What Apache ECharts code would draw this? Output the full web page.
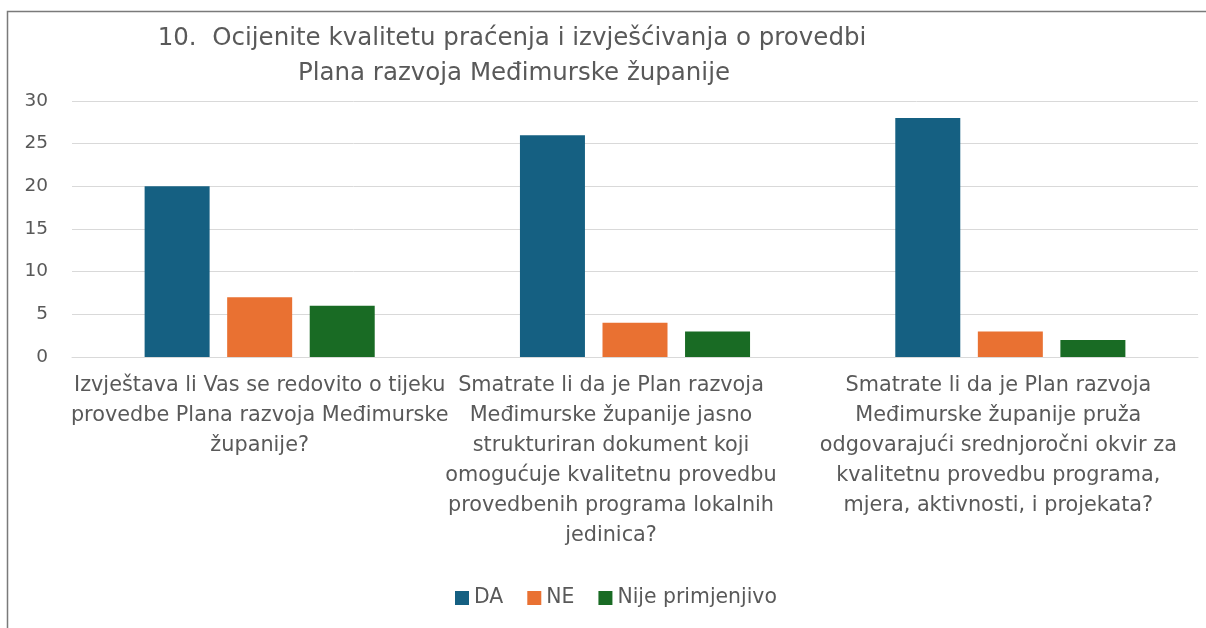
<!DOCTYPE html>
<html>
<head>
<meta charset="utf-8">
<script src="https://cdn.jsdelivr.net/npm/echarts@6/dist/echarts.min.js"></script>
<style>
html,body{margin:0;padding:0;background:#fff;}
#chart{width:1206px;height:628px;}
</style>
</head>
<body>
<div id="chart"></div>
<script>
const titleLines = ['10.  Ocijenite kvalitetu praćenja i izvješćivanja o provedbi', 'Plana razvoja Međimurske županije'];
const categories = [
  'Izvještava li Vas se redovito o tijeku\nprovedbe Plana razvoja Međimurske\nžupanije?',
  'Smatrate li da je Plan razvoja\nMeđimurske županije jasno\nstrukturiran dokument koji\nomogućuje kvalitetnu provedbu\nprovedbenih programa lokalnih\njedinica?',
  'Smatrate li da je Plan razvoja\nMeđimurske županije pruža\nodgovarajući srednjoročni okvir za\nkvalitetnu provedbu programa,\nmjera, aktivnosti, i projekata?'
];
const seriesNames = ['DA', 'NE', 'Nije primjenjivo'];
const daValues = [20, 26, 28];
const neValues = [7, 4, 3];
const nijeValues = [6, 3, 2];
const colors = ['#156082', '#E97132', '#196B24'];

const FONT = 'DejaVu Sans';
const TEXT = '#595959';
const labelStyle = { fontFamily: FONT, fontSize: 20.8, color: TEXT, lineHeight: 30 };
// extra right padding per category label (the original's labels sit slightly left of the slot centre)
const labelRightPad = [0, 48, 24];
const rich = {};
labelRightPad.forEach((p, i) => { rich['c' + i] = Object.assign({ padding: [0, p, 0, 0] }, labelStyle); });

const chart = echarts.init(document.getElementById('chart'));
chart.setOption({
  animation: false,
  color: colors,
  textStyle: { fontFamily: FONT },
  title: [{
    text: titleLines[0],
    left: 507, top: 21, textAlign: 'center',
    textStyle: { fontFamily: FONT, fontSize: 24.5, fontWeight: 'normal', color: TEXT }
  }, {
    text: titleLines[1],
    left: 509, top: 56, textAlign: 'center',
    textStyle: { fontFamily: FONT, fontSize: 24.5, fontWeight: 'normal', color: TEXT }
  }],
  graphic: [{
    type: 'rect',
    silent: true,
    shape: { x: 7.5, y: 11.5, width: 1300, height: 800 },
    style: { fill: 'none', stroke: '#7a7a7a', lineWidth: 1.5 }
  }],
  legend: {
    data: seriesNames,
    bottom: 15,
    left: 450,
    icon: 'rect',
    itemWidth: 14,
    itemHeight: 14,
    itemGap: 24,
    textStyle: { fontFamily: FONT, fontSize: 20.4, color: TEXT }
  },
  grid: { left: 72, right: 8, top: 101, bottom: 271, containLabel: false },
  xAxis: {
    type: 'category',
    data: categories,
    axisTick: { show: false },
    axisLine: { lineStyle: { color: '#d9d9d9', width: 1 } },
    axisLabel: Object.assign({
      interval: 0, margin: 14, align: 'center', rich: rich,
      formatter: (value, index) => value.split('\n').map(l => '{c' + index + '|' + l + '}').join('\n')
    }, labelStyle)
  },
  yAxis: {
    type: 'value',
    min: 0, max: 30, interval: 5,
    axisLine: { show: false },
    axisTick: { show: false },
    splitLine: { lineStyle: { color: '#d9d9d9', width: 1 } },
    axisLabel: { fontFamily: FONT, fontSize: 18.5, color: TEXT, margin: 24 }
  },
  series: [
    { name: seriesNames[0], type: 'bar', data: daValues, barWidth: 65, barGap: '27%' },
    { name: seriesNames[1], type: 'bar', data: neValues, barWidth: 65, barGap: '27%' },
    { name: seriesNames[2], type: 'bar', data: nijeValues, barWidth: 65, barGap: '27%' }
  ]
});
</script>
</body>
</html>
